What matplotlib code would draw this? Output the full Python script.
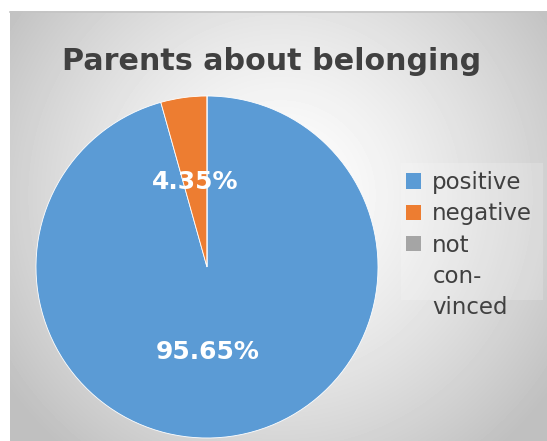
import numpy as np
import matplotlib
matplotlib.use("Agg")
import matplotlib.pyplot as plt
from matplotlib.patches import Patch, Rectangle

plt.rcParams["font.family"] = ["DejaVu Sans"]

# ---------------- data ----------------
title = "Parents about belonging"
labels = ["positive", "negative", "not convinced"]
legend_lines = ["positive", "negative", "not", "con-", "vinced"]
values = [95.65, 4.35, 0.0]
colors = ["#5B9BD5", "#ED7D31", "#A5A5A5"]

W, H = 547, 441
fig = plt.figure(figsize=(W / 100, H / 100), dpi=100)
fig.patch.set_facecolor("white")

# ---------------- radial gradient background ----------------
bg = fig.add_axes([10 / W, 0, (W - 10) / W, (H - 11) / H])
yy, xx = np.mgrid[11:H, 10:W]
d = np.hypot(xx - 280, (yy - 195)) / 335
shade = 1 - 0.25 * np.clip(d, 0, 1) ** 1.4
bg.imshow(shade, cmap="gray", vmin=0, vmax=1, aspect="auto", interpolation="bilinear")
bg.set_axis_off()
# thin border on top
fig.add_artist(plt.Line2D([10 / W, 1], [1 - 11.5 / H] * 2, color="#c4c4c4", lw=1.2))
# faint legend box
fig.add_artist(Rectangle((401 / W, 1 - 300 / H), 142 / W, 137 / H,
                         facecolor="white", alpha=0.18, edgecolor="none",
                         transform=fig.transFigure))

# ---------------- pie ----------------
r = 171
cx, cy = 207, H - 267
ax = fig.add_axes([(cx - r) / W, (cy - r) / H, 2 * r / W, 2 * r / H])
ax.set_axis_off()
wedges, _, autotexts = ax.pie(
    values, colors=colors, startangle=90, counterclock=False,
    autopct=lambda p: f"{p:.2f}%" if p > 0 else "", pctdistance=0.5,
    wedgeprops=dict(edgecolor="white", linewidth=0.6),
    textprops=dict(color="white", fontsize=18, fontweight="bold"),
    radius=1,
)
autotexts[0].set_x(0.005)
ax.set_xlim(-1, 1)
ax.set_ylim(-1, 1)
ax.set_aspect("equal")

fig.text(272 / W, 1 - 61 / H, title, ha="center", va="center",
         fontsize=21.7, fontweight="bold", color="#404040")

# legend: the long label wraps onto three lines, marker only on the first
handles = [Patch(facecolor=c, edgecolor="none") for c in colors]
handles += [Patch(facecolor="none", edgecolor="none")] * 2
fig.legend(handles, legend_lines, loc="upper left", bbox_to_anchor=(406 / W, 1 - 171 / H),
           frameon=False, fontsize=16.5, labelcolor="#404040",
           handlelength=0.65, handleheight=0.65, handletextpad=0.5,
           labelspacing=0.36, borderpad=0, borderaxespad=0)

fig.savefig("out.png", dpi=100)
